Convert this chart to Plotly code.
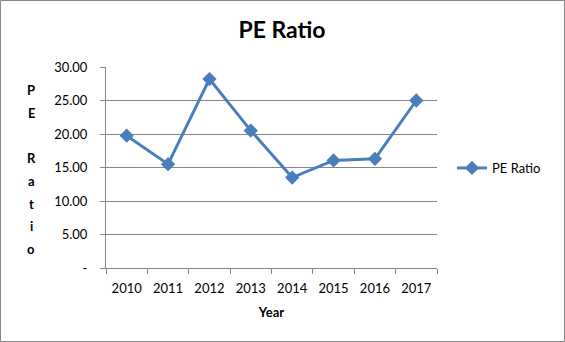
import plotly.graph_objects as go

years = ["2010", "2011", "2012", "2013", "2014", "2015", "2016", "2017"]
pe_ratio = [19.75, 15.5, 28.2, 20.5, 13.5, 16.05, 16.3, 25.0]
y_ticks = [0, 5, 10, 15, 20, 25, 30]
y_tick_labels = ["-", "5.00", "10.00", "15.00", "20.00", "25.00", "30.00"]
y_title_letters = ["P", "E", "", "R", "a", "t", "i", "o"]

W, H = 565, 342
L, R, T, B = 106, 128, 67, 74
pw, ph = W - L - R, H - T - B

def px_x(p):
    return (p - L) / pw

def px_y(p):
    return (H - B - p) / ph

blue = "#4a7ebb"
grey = "#868686"
font = "Lato"

fig = go.Figure()
fig.add_trace(go.Scatter(
    x=years, y=pe_ratio, name="PE Ratio", mode="lines+markers",
    line=dict(color=blue, width=3),
    marker=dict(symbol="diamond", size=11, color=blue),
))

annotations = []
for i, letter in enumerate(y_title_letters):
    if not letter:
        continue
    annotations.append(dict(
        text="<b>%s</b>" % letter, xref="paper", yref="paper",
        x=px_x(31), y=px_y(90 + i * 22.7), xanchor="center", yanchor="middle",
        showarrow=False, font=dict(family=font, size=13, color="#000000"),
    ))

fig.update_layout(
    width=W, height=H,
    margin=dict(l=L, r=R, t=T, b=B),
    paper_bgcolor="white", plot_bgcolor="white",
    font=dict(family=font, size=13, color="#000000"),
    title=dict(text="<b>PE Ratio</b>", xref="container", x=282 / W, xanchor="center",
               yref="container", y=1 - 30 / H, yanchor="middle",
               font=dict(family=font, size=23, color="#000000")),
    showlegend=True,
    legend=dict(x=px_x(452), y=px_y(168), xanchor="left", yanchor="middle",
                font=dict(family=font, size=13), bgcolor="rgba(0,0,0,0)",
                itemwidth=30),
    xaxis=dict(
        type="category", range=[-0.5, 7.5],
        tickson="boundaries", ticks="outside", ticklen=5, tickcolor=grey,
        showline=True, linecolor=grey, linewidth=1, showgrid=False,
        tickfont=dict(family=font, size=13), ticklabelstandoff=8,
        title=dict(text="<b>Year</b>", font=dict(family=font, size=13), standoff=13),
    ),
    yaxis=dict(
        range=[0, 30], tickvals=y_ticks, ticktext=y_tick_labels,
        ticks="outside", ticklen=5, tickcolor=grey,
        showline=True, linecolor=grey, linewidth=1,
        showgrid=True, gridcolor=grey, gridwidth=1, zeroline=False,
        tickfont=dict(family=font, size=13), ticklabelstandoff=10,
    ),
    annotations=annotations,
    shapes=[dict(
        type="rect", xref="paper", yref="paper",
        x0=px_x(0.5), x1=px_x(564.5), y0=px_y(341.5), y1=px_y(0.5),
        line=dict(color=grey, width=1), layer="below",
    )],
)

fig.write_html("out.html")
